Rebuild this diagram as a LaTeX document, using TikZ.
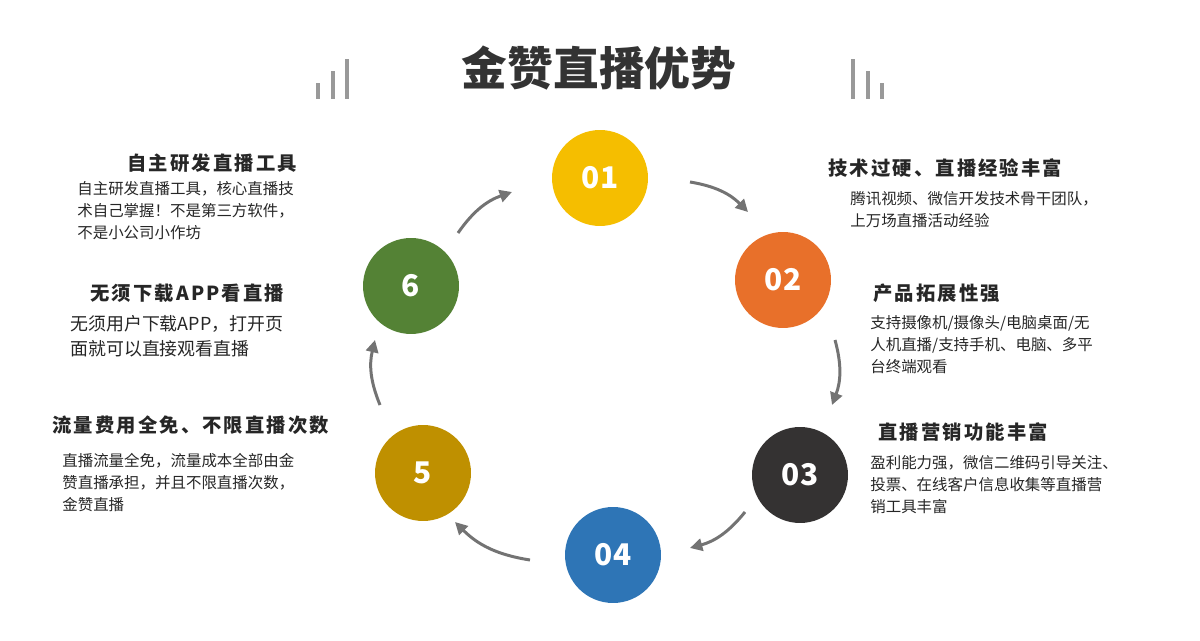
\documentclass[tikz,border=0pt]{standalone}
\usepackage{fontspec}
\setmainfont{Noto Sans CJK SC}
\newfontfamily\headfont[LetterSpace=11]{Noto Sans CJK SC}
\usetikzlibrary{arrows.meta}

\tikzset{
  num/.style={circle, minimum size=1.92cm, inner sep=0pt, text=white, font=\fontsize{17}{17}\selectfont\bfseries},
  head/.style={anchor=west, text=black!85, font=\headfont\fontsize{11}{13}\selectfont\bfseries, inner sep=0pt},
  body/.style={anchor=north west, align=left, text=black!85, font=\fontsize{8.8}{12.6}\selectfont, inner sep=0pt},
  flow/.style={draw=black!55, line width=1.7pt, -{Triangle[length=7pt,width=7pt]}},
  bar/.style={fill=black!40}
}

\begin{document}
\begin{tikzpicture}[x=0.02cm, y=-0.02cm]
  \useasboundingbox (0,0) rectangle (1200,641);

  % title
  \node[text=black!80, font=\fontsize{26}{26}\selectfont\bfseries] (title) at (599,68) {金赞直播优势};
  \foreach \x/\t in {318/83, 333/71, 347/59, 853/59, 868/71, 882/83}
    \fill[bar] (\x-2,\t) rectangle (\x+2,99);

  % circles
  \node[num, fill={rgb,255:red,245;green,190;blue,0}] (c1) at (600,178) {01};
  \node[num, fill={rgb,255:red,232;green,112;blue,42}] (c2) at (783,280) {02};
  \node[num, fill={rgb,255:red,52;green,50;blue,50}] (c3) at (800,475) {03};
  \node[num, fill={rgb,255:red,46;green,117;blue,182}] (c4) at (613,555) {04};
  \node[num, fill={rgb,255:red,191;green,144;blue,0}] (c5) at (423,473) {5};
  \node[num, fill={rgb,255:red,84;green,130;blue,53}] (c6) at (411,286) {6};

  % arrows
  \coordinate (a1s) at (690,182); \coordinate (a1e) at (748,212);
  \coordinate (a2s) at (835,340); \coordinate (a2e) at (832,405);
  \coordinate (a3s) at (745,512); \coordinate (a3e) at (690,548);
  \coordinate (a4s) at (530,560); \coordinate (a4e) at (455,522);
  \coordinate (a5s) at (380,405); \coordinate (a5e) at (375,340);
  \coordinate (a6s) at (458,233); \coordinate (a6e) at (512,192);
  \foreach \s/\e in {a1s/a1e, a2s/a2e, a3s/a3e, a4s/a4e, a5s/a5e, a6s/a6e}
    \draw[flow] (\s) to[bend left=18] (\e);

  % right texts
  \node[head] (h1) at (828,168) {技术过硬、直播经验丰富};
  \node[body] (b1) at (850,191) {腾讯视频、微信开发技术骨干团队，\\上万场直播活动经验};
  \node[head] (h2) at (873,293) {产品拓展性强};
  \node[body] (b2) at (870,315) {支持摄像机/摄像头/电脑桌面/无\\人机直播/支持手机、电脑、多平\\台终端观看};
  \node[head] (h3) at (878,432) {直播营销功能丰富};
  \node[body] (b3) at (870,455) {盈利能力强，微信二维码引导关注、\\投票、在线客户信息收集等直播营\\销工具丰富};

  % left texts
  \node[head] (h6a) at (127,163) {自主研发直播工具};
  \node[body] (b6a) at (77,181) {自主研发直播工具，核心直播技\\术自己掌握！不是第三方软件，\\不是小公司小作坊};
  \node[head] (h6b) at (90,293) {无须下载APP看直播};
  \node[body, font=\fontsize{10.2}{14}\selectfont] (b6b) at (70,315) {无须用户下载APP，打开页\\面就可以直接观看直播};
  \node[head] (h5) at (52,425) {流量费用全免、不限直播次数};
  \node[body] (b5) at (62,453) {直播流量全免，流量成本全部由金\\赞直播承担，并且不限直播次数，\\金赞直播};
\end{tikzpicture}
\end{document}
